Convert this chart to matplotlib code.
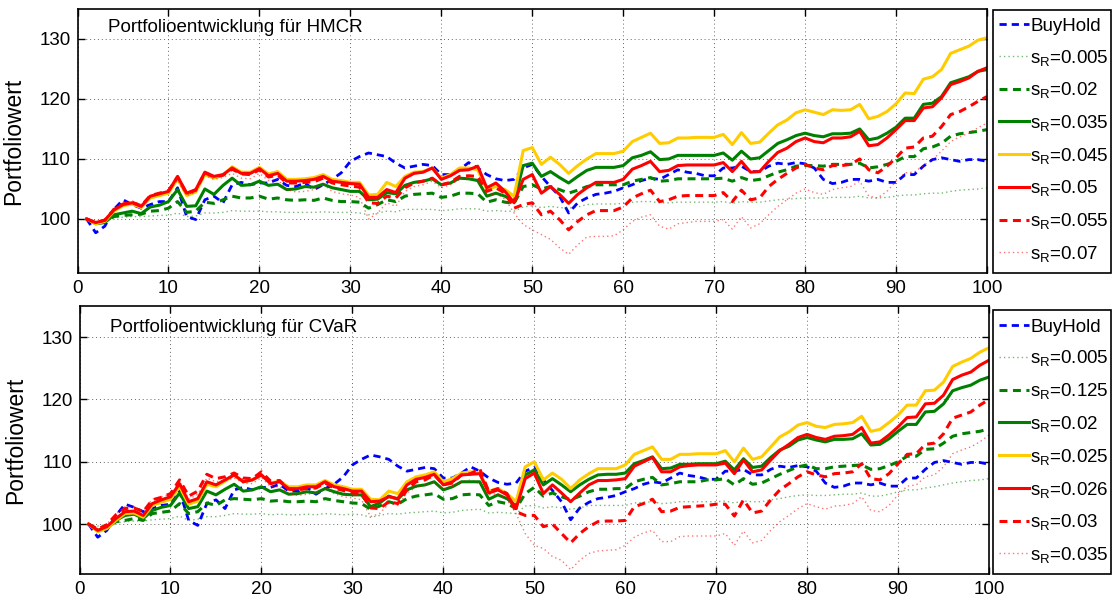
import matplotlib
matplotlib.use("Agg")
import matplotlib.pyplot as plt
from matplotlib.patches import Rectangle
import numpy as np

plt.rcParams['font.family'] = ['Liberation Sans', 'DejaVu Sans']
plt.rcParams['mathtext.fontset'] = 'custom'
plt.rcParams['mathtext.rm'] = 'Liberation Sans'

days = list(range(1, 101))

# ---------------- HMCR (top) ----------------
hmcr_buyhold = [100, 97.7, 98.8, 101.6, 103.2, 102.4, 101.8, 102.4, 102.9, 102.9,
                105.2, 100.4, 99.9, 103.2, 103.8, 102.7, 105.7, 106.1, 105.7, 106.0,
                106.0, 106.6, 105.6, 105.4, 106.0, 104.9, 105.7, 106.6, 107.7, 109.6,
                110.4, 111.0, 110.7, 110.4, 109.3, 108.5, 108.8, 109.1, 108.9, 107.4,
                107.4, 108.2, 109.4, 108.5, 107.4, 106.7, 106.4, 106.6, 108.5, 109.1,
                107.1, 105.4, 103.8, 101.0, 102.7, 103.5, 104.1, 104.3, 104.6, 105.2,
                105.7, 106.4, 106.8, 106.6, 107.4, 108.2, 107.8, 107.6, 107.2, 107.2,
                108.5, 108.5, 108.8, 107.9, 107.9, 108.8, 109.3, 109.1, 109.4, 109.2,
                108.5, 106.6, 105.9, 106.1, 106.6, 106.6, 106.3, 106.6, 106.1, 106.1,
                107.4, 107.4, 108.8, 109.9, 110.2, 109.9, 109.6, 109.9, 109.9, 109.6]
hmcr_s0005 = [100, 99.6, 99.8, 100.2, 100.3, 100.4, 100.4, 100.5, 100.6, 100.6,
              101.0, 100.4, 100.5, 101.0, 101.0, 101.1, 101.4, 101.3, 101.3, 101.3,
              101.2, 101.2, 101.1, 101.1, 101.1, 101.1, 101.2, 101.1, 101.1, 101.1,
              101.0, 100.7, 101.0, 101.3, 101.2, 101.6, 101.6, 101.6, 101.6, 101.4,
              101.5, 101.7, 101.7, 101.7, 101.3, 101.4, 101.3, 101.3, 102.0, 102.2,
              101.9, 102.1, 101.9, 101.8, 102.0, 102.4, 102.5, 102.5, 102.5, 102.6,
              102.8, 102.9, 102.9, 102.7, 102.7, 102.8, 102.8, 102.8, 102.8, 102.8,
              102.9, 102.6, 102.9, 102.8, 102.8, 103.0, 103.2, 103.3, 103.4, 103.5,
              103.5, 103.5, 103.6, 103.6, 103.6, 103.8, 103.5, 103.5, 103.6, 103.8,
              104.0, 104.0, 104.2, 104.3, 104.3, 104.6, 104.8, 104.9, 105.0, 105.2]
hmcr_s002 = [100, 99.3, 99.6, 100.4, 100.6, 100.7, 100.8, 101.3, 101.4, 101.8,
             102.9, 101.1, 101.3, 102.8, 102.6, 103.2, 103.8, 103.5, 103.5, 103.8,
             103.3, 103.5, 103.2, 103.1, 103.2, 103.1, 103.5, 103.1, 102.9, 102.9,
             102.8, 101.8, 102.4, 103.2, 102.9, 103.8, 104.1, 104.2, 104.3, 103.6,
             103.8, 104.3, 104.3, 104.2, 102.8, 103.2, 102.8, 102.6, 105.4, 105.7,
             105.0, 105.4, 104.9, 104.3, 104.8, 105.4, 105.7, 105.7, 105.7, 105.7,
             106.3, 106.6, 106.9, 106.3, 106.4, 106.7, 106.7, 106.7, 106.7, 106.7,
             106.8, 106.3, 106.9, 106.4, 106.6, 107.2, 107.8, 108.2, 108.8, 108.9,
             108.9, 108.8, 109.1, 109.1, 109.1, 109.3, 108.5, 108.7, 109.1, 109.6,
             110.4, 110.4, 111.7, 112.0, 112.6, 113.8, 114.2, 114.4, 114.6, 114.9]
hmcr_s0035 = [100, 99.2, 99.4, 100.7, 101.0, 101.3, 100.9, 102.0, 102.3, 102.9,
              104.9, 102.1, 102.2, 105.0, 104.1, 105.6, 106.8, 105.6, 105.7, 106.3,
              105.6, 105.8, 104.9, 105.0, 105.4, 105.3, 105.8, 105.2, 104.9, 104.6,
              104.6, 103.2, 103.3, 104.4, 104.2, 105.6, 106.1, 106.3, 106.7, 105.7,
              106.0, 106.8, 106.7, 106.4, 103.8, 104.3, 103.8, 102.9, 108.9, 109.3,
              107.1, 107.9, 106.9, 106.0, 107.1, 108.1, 108.6, 108.6, 108.6, 108.9,
              110.2, 110.6, 111.2, 109.9, 110.0, 110.6, 110.6, 110.6, 110.6, 110.6,
              111.0, 109.8, 111.3, 110.0, 110.2, 111.4, 112.6, 113.2, 113.9, 114.3,
              113.9, 113.7, 114.2, 114.2, 114.3, 115.0, 113.2, 113.5, 114.3, 115.3,
              116.8, 116.8, 119.1, 119.3, 120.4, 122.7, 123.2, 123.7, 124.6, 124.9]
hmcr_s0045 = [100, 99.2, 99.6, 101.3, 102.2, 102.5, 101.9, 103.5, 103.9, 104.3,
              106.7, 103.9, 104.5, 107.4, 106.8, 107.3, 108.7, 107.8, 107.8, 108.6,
              107.5, 107.9, 106.6, 106.6, 106.7, 106.9, 107.4, 106.6, 106.4, 106.1,
              106.1, 104.0, 104.1, 106.1, 105.4, 107.1, 107.8, 107.9, 108.5, 106.8,
              107.4, 108.5, 108.5, 108.2, 104.9, 105.4, 104.9, 103.8, 111.4, 111.9,
              109.1, 110.3, 109.1, 107.6, 108.9, 110.0, 110.9, 110.9, 110.9, 111.3,
              112.9, 113.6, 114.3, 112.6, 112.7, 113.5, 113.5, 113.6, 113.6, 113.6,
              114.1, 112.4, 114.4, 112.6, 112.8, 114.3, 115.7, 116.5, 117.7, 118.2,
              117.8, 117.4, 118.2, 118.1, 118.2, 119.1, 116.7, 117.1, 117.9, 119.2,
              121.0, 120.9, 123.3, 123.7, 124.9, 127.6, 128.2, 128.8, 129.8, 130.2]
hmcr_s005 = [100, 99.4, 99.8, 101.5, 102.4, 102.7, 102.1, 103.8, 104.2, 104.6,
             107.1, 104.3, 104.9, 107.8, 107.1, 107.4, 108.5, 107.6, 107.6, 108.4,
             107.2, 107.6, 106.3, 106.3, 106.4, 106.6, 107.1, 106.3, 106.1, 105.9,
             105.8, 103.6, 103.6, 104.9, 104.4, 106.8, 107.6, 107.8, 108.5, 106.6,
             107.2, 108.1, 108.2, 108.8, 105.2, 106.0, 104.6, 102.7, 106.6, 107.4,
             104.3, 105.4, 104.1, 102.6, 104.1, 105.2, 106.1, 106.1, 106.1, 106.6,
             108.3, 108.9, 109.6, 107.9, 108.1, 108.9, 109.0, 109.0, 109.0, 109.0,
             109.4, 107.9, 109.6, 107.8, 107.9, 109.6, 111.1, 111.8, 112.9, 113.5,
             112.9, 112.7, 113.5, 113.5, 113.7, 114.6, 112.2, 112.4, 113.5, 114.9,
             116.4, 116.4, 118.5, 118.7, 120.2, 122.4, 122.9, 123.5, 124.6, 125.2]
hmcr_s0055 = [100, 99.4, 99.8, 101.6, 102.5, 102.8, 102.2, 103.9, 104.3, 104.7,
              107.0, 104.2, 104.8, 107.7, 107.0, 107.3, 108.3, 107.5, 107.4, 108.2,
              107.0, 107.3, 106.0, 106.0, 106.1, 106.2, 106.8, 106.0, 105.7, 105.5,
              105.3, 102.7, 102.6, 103.8, 103.5, 105.2, 106.0, 106.3, 106.8, 105.7,
              106.1, 107.1, 107.2, 107.1, 104.6, 105.2, 104.3, 101.8, 102.4, 102.7,
              100.7, 101.3, 99.9, 98.2, 99.6, 100.7, 101.4, 101.4, 101.4, 102.0,
              103.5, 104.2, 104.8, 102.9, 103.2, 103.8, 103.9, 103.9, 103.9, 103.9,
              104.4, 102.9, 104.8, 103.2, 103.5, 105.4, 106.6, 107.6, 108.5, 109.1,
              108.5, 108.2, 108.9, 108.9, 109.1, 110.0, 108.2, 107.7, 108.8, 110.2,
              111.8, 112.0, 113.5, 113.8, 115.4, 117.4, 117.9, 118.7, 119.6, 120.4]
hmcr_s007 = [100, 99.5, 100.0, 101.8, 102.8, 103.0, 102.4, 103.9, 104.2, 104.5,
             106.5, 103.9, 104.5, 107.3, 106.6, 106.9, 107.6, 106.8, 106.7, 107.6,
             106.4, 106.6, 104.9, 104.5, 104.6, 104.9, 105.8, 104.6, 104.2, 104.0,
             103.6, 100.0, 101.0, 102.7, 102.1, 104.6, 105.4, 105.7, 106.3, 105.2,
             105.7, 106.6, 106.7, 106.6, 103.8, 104.3, 103.3, 101.0, 99.1, 98.2,
             97.4, 96.6, 95.2, 94.1, 95.7, 97.0, 97.1, 97.1, 97.2, 98.2,
             99.6, 100.3, 100.7, 98.8, 98.3, 99.2, 99.4, 99.6, 99.6, 99.6,
             99.9, 98.3, 100.4, 98.5, 99.2, 100.7, 102.1, 103.2, 104.3, 105.0,
             104.4, 104.1, 104.9, 105.2, 105.4, 106.3, 103.8, 103.5, 104.6, 106.3,
             107.7, 107.8, 108.9, 109.9, 111.3, 112.9, 113.7, 114.3, 115.2, 116.0]

# ---------------- CVaR (bottom) ----------------
cvar_buyhold = [100, 97.9, 99.0, 101.4, 103.2, 102.7, 102.0, 102.5, 103.0, 103.2,
                105.3, 100.6, 99.8, 103.3, 103.9, 102.5, 105.5, 105.9, 105.5, 105.9,
                105.9, 106.4, 105.3, 105.3, 105.9, 104.8, 105.7, 106.4, 107.6, 109.5,
                110.4, 111.1, 110.8, 110.4, 109.3, 108.5, 108.8, 109.1, 108.9, 107.4,
                107.4, 108.2, 109.2, 108.5, 107.4, 106.7, 106.4, 106.6, 108.5, 109.1,
                107.1, 105.4, 103.6, 100.7, 102.6, 103.5, 104.1, 104.3, 104.6, 105.2,
                105.7, 106.4, 106.8, 106.6, 107.4, 108.2, 107.8, 107.6, 107.2, 107.2,
                108.5, 108.5, 108.8, 107.9, 107.9, 108.8, 109.3, 109.1, 109.4, 109.2,
                108.5, 106.6, 105.9, 106.1, 106.6, 106.6, 106.3, 106.6, 106.1, 106.1,
                107.4, 107.4, 108.8, 109.9, 110.2, 109.9, 109.6, 109.9, 109.9, 109.6]
cvar_s0005 = [100, 99.7, 99.9, 100.2, 100.4, 100.5, 100.5, 100.7, 100.8, 100.9,
              101.3, 100.6, 100.8, 101.2, 101.2, 101.4, 101.7, 101.6, 101.6, 101.7,
              101.5, 101.6, 101.5, 101.5, 101.6, 101.5, 101.7, 101.6, 101.5, 101.6,
              101.5, 101.1, 101.4, 101.7, 101.6, 101.8, 101.9, 102.0, 102.1, 101.8,
              101.9, 102.2, 102.3, 102.4, 101.8, 101.9, 101.8, 101.7, 102.9, 103.0,
              102.6, 102.8, 102.6, 102.4, 102.6, 103.0, 103.0, 103.0, 103.0, 103.0,
              103.4, 103.5, 103.6, 103.3, 103.4, 103.6, 103.6, 103.6, 103.6, 103.6,
              103.7, 103.4, 103.7, 103.6, 103.6, 103.9, 104.1, 104.4, 104.6, 104.7,
              104.6, 104.6, 104.7, 104.8, 104.8, 105.0, 104.5, 104.5, 104.8, 105.2,
              105.5, 105.5, 105.8, 106.0, 106.3, 106.6, 106.8, 107.0, 107.1, 107.3]
cvar_s0125 = [100, 99.0, 99.4, 100.4, 100.6, 100.9, 100.6, 101.7, 101.9, 102.1,
              103.3, 101.7, 102.0, 103.4, 103.0, 103.9, 104.1, 104.0, 103.9, 104.1,
              103.7, 103.8, 103.6, 103.6, 103.7, 103.6, 104.1, 103.8, 103.6, 103.4,
              103.3, 102.4, 102.9, 103.6, 103.2, 104.1, 104.5, 104.7, 104.9, 104.0,
              104.1, 104.7, 104.8, 104.7, 103.0, 103.6, 103.3, 102.5, 104.9, 105.9,
              104.5, 105.0, 104.4, 103.9, 104.5, 105.2, 105.6, 105.6, 105.7, 105.7,
              106.8, 107.2, 107.5, 106.3, 106.5, 106.8, 106.8, 106.8, 107.1, 107.1,
              107.3, 106.3, 107.3, 106.4, 106.6, 107.3, 108.0, 108.6, 109.2, 109.5,
              108.9, 108.9, 109.2, 109.3, 109.4, 109.5, 108.8, 108.9, 109.4, 110.0,
              110.9, 110.9, 112.0, 112.1, 113.0, 114.1, 114.5, 114.7, 114.9, 115.3]
cvar_s002 = [100, 99.0, 99.3, 100.6, 101.4, 101.6, 100.9, 102.2, 102.7, 103.0,
             105.0, 102.5, 102.8, 105.3, 104.7, 105.6, 106.4, 105.3, 105.5, 106.0,
             105.2, 105.5, 104.8, 104.9, 105.2, 105.0, 105.7, 105.2, 104.8, 104.7,
             104.7, 102.8, 103.4, 104.5, 104.0, 105.5, 106.1, 106.3, 106.8, 105.5,
             106.0, 106.8, 106.8, 106.8, 104.0, 104.7, 104.1, 102.9, 107.9, 108.7,
             106.3, 107.3, 106.3, 105.2, 106.3, 107.2, 107.9, 108.0, 108.0, 108.2,
             109.7, 110.2, 110.8, 108.9, 109.0, 109.6, 109.6, 109.7, 109.7, 109.7,
             110.1, 108.7, 110.5, 109.1, 109.3, 110.7, 111.9, 112.5, 113.5, 113.9,
             113.5, 113.2, 113.6, 113.6, 113.7, 114.5, 112.7, 112.8, 113.7, 114.9,
             116.0, 116.0, 118.0, 118.1, 119.3, 121.4, 121.9, 122.3, 123.1, 123.6]
cvar_s0025 = [100, 98.8, 99.3, 100.6, 101.7, 101.8, 101.1, 103.0, 103.5, 104.0,
              106.0, 103.2, 103.7, 106.4, 106.0, 106.9, 107.9, 106.8, 107.1, 107.9,
              106.6, 106.9, 106.0, 106.0, 106.3, 106.3, 107.0, 106.3, 106.0, 105.6,
              105.6, 104.0, 103.9, 105.3, 104.9, 106.8, 107.6, 107.9, 108.4, 106.8,
              107.3, 108.2, 108.4, 108.2, 105.3, 105.7, 104.9, 103.6, 109.2, 110.0,
              107.1, 108.2, 107.2, 105.7, 107.1, 108.1, 108.9, 108.9, 108.9, 109.5,
              111.2, 111.8, 112.4, 110.4, 110.4, 111.2, 111.2, 111.3, 111.3, 111.3,
              111.8, 110.0, 112.2, 110.4, 110.8, 112.4, 114.0, 114.8, 115.9, 116.3,
              115.7, 115.5, 116.0, 116.1, 116.3, 117.3, 114.9, 115.2, 116.3, 117.5,
              119.1, 119.1, 121.4, 121.5, 122.8, 125.3, 126.0, 126.6, 127.6, 128.3]
cvar_s0026 = [100, 99.0, 99.6, 100.9, 102.0, 102.1, 101.4, 103.3, 103.9, 104.4,
              106.5, 103.6, 104.1, 106.8, 106.3, 107.1, 107.9, 106.8, 107.1, 107.9,
              106.5, 106.8, 105.7, 105.7, 106.0, 106.0, 106.8, 106.0, 105.7, 105.3,
              105.3, 103.6, 103.7, 104.4, 104.1, 106.3, 107.2, 107.5, 108.0, 106.3,
              106.8, 107.9, 108.0, 108.1, 105.0, 105.5, 104.7, 102.5, 107.3, 108.2,
              104.9, 106.3, 105.0, 103.6, 105.0, 106.3, 107.0, 107.0, 107.1, 107.3,
              109.3, 110.0, 110.7, 108.4, 108.4, 109.2, 109.4, 109.5, 109.5, 109.5,
              109.8, 108.1, 110.3, 108.4, 108.7, 110.3, 111.8, 112.8, 113.9, 114.4,
              113.9, 113.6, 114.1, 114.2, 114.4, 115.5, 113.0, 113.2, 114.3, 115.6,
              117.1, 117.2, 119.3, 119.4, 120.7, 123.2, 123.9, 124.4, 125.5, 126.3]
cvar_s003 = [100, 99.2, 99.9, 101.5, 102.5, 102.6, 102.0, 103.9, 104.3, 104.9,
             107.1, 104.5, 105.3, 108.0, 107.3, 107.6, 108.2, 107.4, 107.3, 108.4,
             106.9, 107.0, 105.6, 105.5, 105.7, 105.8, 106.6, 105.8, 105.4, 105.0,
             104.9, 102.6, 102.5, 103.6, 103.3, 105.5, 106.8, 107.1, 107.9, 106.3,
             106.6, 107.9, 108.1, 108.9, 105.2, 105.7, 104.9, 102.0, 101.4, 101.4,
             99.6, 100.0, 98.5, 97.0, 98.5, 99.6, 100.4, 100.5, 100.5, 100.6,
             102.8, 103.3, 104.0, 102.0, 102.1, 102.7, 102.8, 102.9, 103.0, 103.2,
             103.2, 101.3, 103.9, 101.8, 102.1, 103.9, 105.5, 106.5, 107.6, 108.4,
             107.9, 107.6, 108.1, 108.2, 108.4, 109.7, 107.3, 107.1, 108.1, 109.7,
             111.2, 111.3, 112.8, 113.0, 114.5, 117.0, 117.5, 118.0, 119.1, 120.0]
cvar_s0035 = [100, 99.3, 100.0, 101.6, 102.8, 102.8, 102.1, 104.0, 104.4, 104.8,
              106.8, 104.0, 104.8, 107.4, 106.8, 107.0, 107.4, 106.6, 106.5, 107.5,
              106.0, 106.0, 104.9, 104.6, 104.8, 105.0, 105.8, 104.9, 104.4, 104.2,
              103.9, 101.2, 101.7, 103.3, 103.0, 105.0, 105.9, 106.3, 106.8, 105.7,
              106.1, 106.8, 107.1, 106.5, 104.7, 104.9, 103.9, 101.7, 98.5, 96.6,
              96.1, 94.8, 94.2, 92.7, 94.2, 95.3, 95.7, 95.8, 95.9, 96.6,
              97.9, 98.6, 99.0, 97.2, 97.2, 98.0, 98.1, 98.1, 98.1, 98.1,
              98.5, 96.6, 98.9, 97.0, 97.4, 99.0, 100.4, 101.4, 102.5, 103.3,
              102.8, 102.4, 102.9, 103.0, 103.3, 104.4, 102.2, 102.0, 103.0, 104.7,
              106.1, 106.3, 107.6, 107.9, 109.2, 111.3, 111.9, 112.4, 113.2, 114.3]

hmcr_labels = ['BuyHold', '0.005', '0.02', '0.035', '0.045', '0.05', '0.055', '0.07']
cvar_labels = ['BuyHold', '0.005', '0.125', '0.02', '0.025', '0.026', '0.03', '0.035']

BLUE, GREEN, YELLOW, RED = '#0000ff', '#008000', '#ffcc00', '#ff0000'
styles = [
    dict(color=BLUE, lw=2.0, dashes=(2.6, 1.8)),
    dict(color=GREEN, lw=1.0, linestyle=(0, (1, 2.2)), alpha=0.55),
    dict(color=GREEN, lw=2.2, dashes=(2.6, 1.8)),
    dict(color=GREEN, lw=2.2, linestyle='-'),
    dict(color=YELLOW, lw=2.2, linestyle='-'),
    dict(color=RED, lw=2.2, linestyle='-'),
    dict(color=RED, lw=2.2, dashes=(2.6, 1.8)),
    dict(color=RED, lw=1.0, linestyle=(0, (1, 2.2)), alpha=0.55),
]

W, H = 1114, 598
fig = plt.figure(figsize=(W / 100, H / 100), dpi=100)
ax1 = fig.add_axes([0.0696, 0.5435, 0.8164, 0.4415])
ax2 = fig.add_axes([0.0714, 0.0401, 0.8164, 0.4482])

# legend frame boxes (pixels: left, top, right, bottom) and first-entry box top
panels = [
    (ax1, [hmcr_buyhold, hmcr_s0005, hmcr_s002, hmcr_s0035, hmcr_s0045, hmcr_s005, hmcr_s0055, hmcr_s007],
     hmcr_labels, 'Portfolioentwicklung für HMCR', (91, 135), 0.928, (993, 10, 1111, 273), 12),
    (ax2, [cvar_buyhold, cvar_s0005, cvar_s0125, cvar_s002, cvar_s0025, cvar_s0026, cvar_s003, cvar_s0035],
     cvar_labels, 'Portfolioentwicklung für CVaR', (92, 135), 0.918, (993, 310, 1111, 574), 313),
]

FS = 13.5
for ax, series, labels, title, ylim, ty, box, ltop in panels:
    for vals, lab, st in zip(series, labels, styles):
        text = lab if lab == 'BuyHold' else r'$\mathregular{s_R}$=' + lab
        ax.plot(days, vals, label=text, **st)
    ax.set_xlim(0, 100)
    ax.set_ylim(*ylim)
    ax.set_xticks(range(0, 101, 10))
    ax.set_yticks([100, 110, 120, 130])
    ax.grid(True, linestyle=(0, (1, 3)), color='#666666', linewidth=0.7)
    ax.tick_params(direction='in', top=True, right=True, length=5, width=1.0,
                   labelsize=FS, pad=5)
    for sp in ax.spines.values():
        sp.set_linewidth(1.2)
    ax.set_ylabel('Portfoliowert', fontsize=16.5)
    ax.yaxis.set_label_coords(-0.058, 0.5)
    ax.text(0.034, ty, title, transform=ax.transAxes, fontsize=FS,
            ha='left', va='center')
    l, t, r, b = box
    fig.add_artist(Rectangle((l / W, 1 - b / H), (r - l) / W, (b - t) / H,
                             transform=fig.transFigure, fill=False,
                             edgecolor='black', linewidth=1.2))
    ax.legend(loc='upper left', bbox_to_anchor=(l / W, 1 - ltop / H),
              bbox_transform=fig.transFigure, borderaxespad=0, frameon=False,
              fontsize=FS, handlelength=1.6, handletextpad=0.1,
              labelspacing=0.68, borderpad=0.3)

fig.savefig('out.png', dpi=100)
